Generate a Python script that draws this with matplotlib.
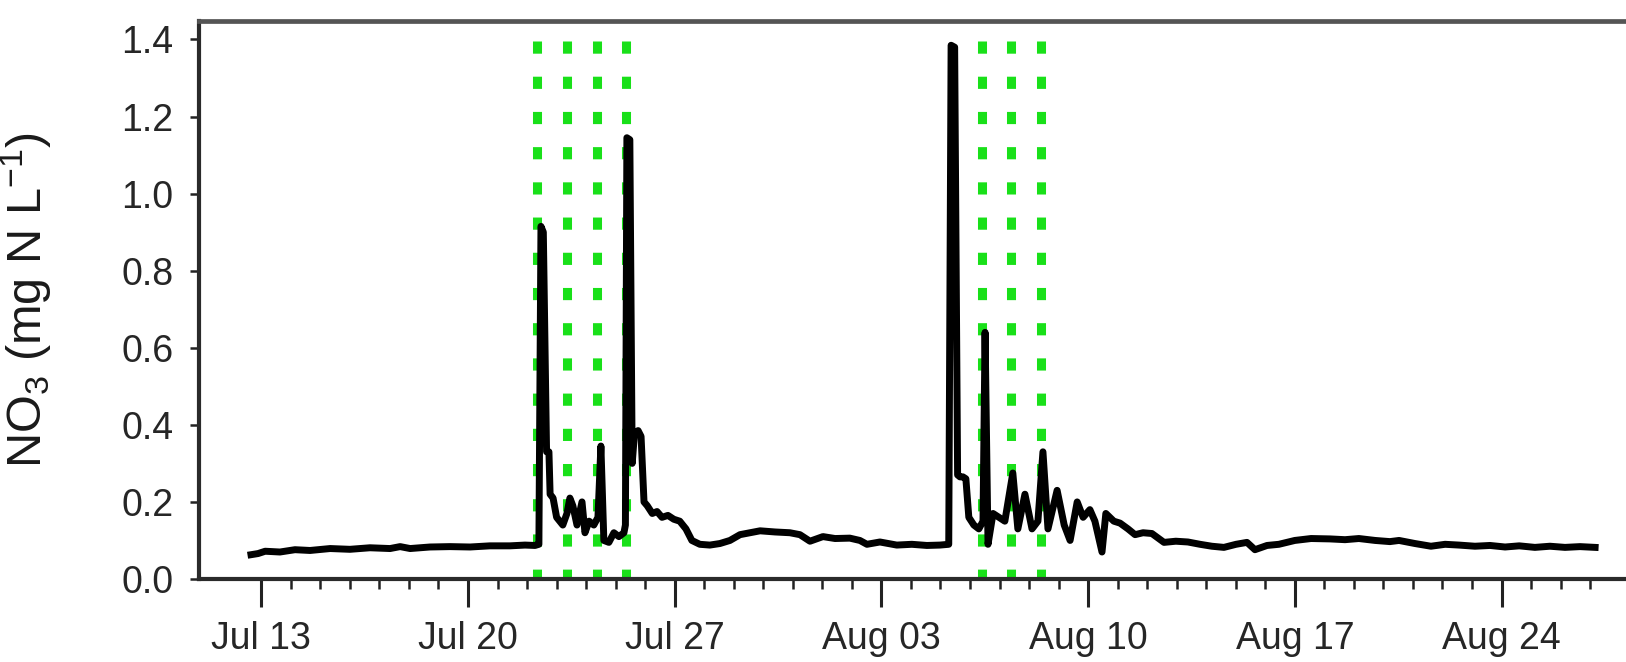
import matplotlib.pyplot as plt, numpy as np
import matplotlib.dates as mdates
from matplotlib.ticker import FixedLocator, FixedFormatter

plt.rcParams['font.family'] = ['Liberation Sans', 'DejaVu Sans']
plt.rcParams['mathtext.default'] = 'regular'

# dados (dias a partir de 13 jul)
start = np.datetime64('2014-07-13T00:00')
days = [-0.35, -0.11, 0.13, 0.63, 1.14, 1.65, 2.33, 3.00, 3.68, 4.36, 4.70, 5.04,
        5.71, 6.39, 7.07, 7.74, 8.42, 8.93, 9.27, 9.40, 9.47, 9.55, 9.66, 9.74,
        9.78, 9.88, 10.00, 10.21, 10.35, 10.45, 10.55, 10.69, 10.86, 10.96, 11.10,
        11.26, 11.40, 11.50, 11.60, 11.77, 11.94, 12.11, 12.28, 12.33, 12.38, 12.48,
        12.56, 12.64, 12.76, 12.86, 12.96, 13.07, 13.24, 13.40, 13.57, 13.77, 13.97,
        14.17, 14.38, 14.58, 14.85, 15.19, 15.53, 15.87, 16.21, 16.55, 16.89, 17.40,
        17.90, 18.24, 18.58, 19.02, 19.43, 19.93, 20.27, 20.51, 20.95, 21.52, 22.03,
        22.54, 22.98, 23.28, 23.36, 23.48, 23.58, 23.66, 23.76, 23.86, 23.96, 24.13,
        24.30, 24.44, 24.51, 24.61, 24.78, 24.98, 25.18, 25.45, 25.62, 25.86, 26.10,
        26.30, 26.47, 26.64, 26.95, 27.19, 27.39, 27.63, 27.83, 28.06, 28.23, 28.47,
        28.60, 28.87, 29.08, 29.35, 29.59, 29.86, 30.16, 30.57, 30.97, 31.38, 31.79,
        32.19, 32.60, 33.01, 33.38, 33.65, 34.06, 34.46, 35.00, 35.55, 36.19, 36.70,
        37.17, 37.72, 38.22, 38.53, 39.07, 39.61, 40.09, 40.56, 41.10, 41.61, 42.12,
        42.60, 43.13, 43.64, 44.15, 44.66, 45.17]
no3 = [0.063, 0.066, 0.072, 0.070, 0.076, 0.074, 0.079, 0.077, 0.081, 0.079, 0.084, 0.079,
       0.083, 0.084, 0.083, 0.086, 0.086, 0.088, 0.087, 0.090, 0.915, 0.900, 0.330, 0.330,
       0.220, 0.210, 0.160, 0.140, 0.170, 0.210, 0.190, 0.140, 0.200, 0.120, 0.150,
       0.140, 0.160, 0.345, 0.100, 0.095, 0.120, 0.110, 0.120, 0.140, 1.145, 1.140,
       0.300, 0.380, 0.385, 0.370, 0.200, 0.190, 0.170, 0.175, 0.160, 0.165, 0.155,
       0.150, 0.130, 0.100, 0.090, 0.088, 0.092, 0.100, 0.115, 0.120, 0.125, 0.122,
       0.120, 0.115, 0.098, 0.110, 0.105, 0.106, 0.100, 0.090, 0.096, 0.088, 0.090,
       0.087, 0.088, 0.090, 1.385, 1.380, 0.270, 0.265, 0.265, 0.260, 0.160, 0.140,
       0.130, 0.150, 0.640, 0.090, 0.170, 0.160, 0.150, 0.275, 0.130, 0.220, 0.130,
       0.150, 0.330, 0.130, 0.230, 0.140, 0.100, 0.200, 0.160, 0.180, 0.150, 0.070,
       0.170, 0.150, 0.145, 0.130, 0.115, 0.120, 0.118, 0.095, 0.098, 0.096, 0.090,
       0.085, 0.082, 0.090, 0.095, 0.076, 0.087, 0.090, 0.100, 0.105, 0.104, 0.102,
       0.105, 0.100, 0.097, 0.100, 0.092, 0.085, 0.090, 0.088, 0.085, 0.087, 0.083,
       0.086, 0.082, 0.085, 0.082, 0.084, 0.082]
event_days = [9.35, 10.34, 11.38, 12.35, 24.40, 25.38, 26.39]
tick_labels = ['Jul 13', 'Jul 20', 'Jul 27', 'Aug 03', 'Aug 10', 'Aug 17', 'Aug 24']
yticks = [0.0, 0.2, 0.4, 0.6, 0.8, 1.0, 1.2, 1.4]

def to_date(d):
    return start + (np.asarray(d) * 86400).astype('timedelta64[s]')

t = to_date(days)
t_ev = to_date(event_days)
t_major = to_date(np.arange(0, 43, 7))
t_minor = to_date(np.arange(0, 46))

# figura
fig = plt.figure(figsize=(16.26, 6.62), dpi=100)
ax = fig.add_axes([0.1224, 0.1254, 0.9100, 0.8429])

for d in t_ev:
    ax.plot([d, d], [1.395, 0], color='#19e019', lw=6.5, linestyle=(0, (1.35, 2.55)),
            dash_capstyle='butt', zorder=2)

ax.plot(t, no3, color='black', lw=5.0, solid_joinstyle='round', zorder=3)

ax.set_xlim(to_date(-2.11), to_date(48))
ax.set_ylim(0, 1.448)

ax.xaxis.set_major_locator(FixedLocator(mdates.date2num(t_major)))
ax.xaxis.set_major_formatter(FixedFormatter(tick_labels))
ax.xaxis.set_minor_locator(FixedLocator(mdates.date2num(t_minor)))
ax.set_yticks(yticks)
ax.set_yticklabels(['%.1f' % v for v in yticks])

ax.tick_params(axis='x', which='major', direction='out', length=20, width=2.2,
               pad=10, labelsize=27, labelcolor='#262626', color='#222222')
ax.tick_params(axis='x', which='minor', direction='out', length=7, width=1.8, color='#222222')
ax.tick_params(axis='y', which='major', direction='out', length=6.5, width=1.8,
               pad=12, labelsize=27, labelcolor='#262626', color='#222222')

for s in ['left', 'bottom']:
    ax.spines[s].set_linewidth(3.0)
    ax.spines[s].set_color('#2a2a2a')
ax.spines['top'].set_linewidth(3.4)
ax.spines['top'].set_color('#555555')

ax.set_ylabel('NO$_3$ (mg N L$^{-1}$)', fontsize=35, color='#1a1a1a')
ax.yaxis.set_label_coords(-0.098, 0.5)

fig.savefig('out.png', dpi=100)
